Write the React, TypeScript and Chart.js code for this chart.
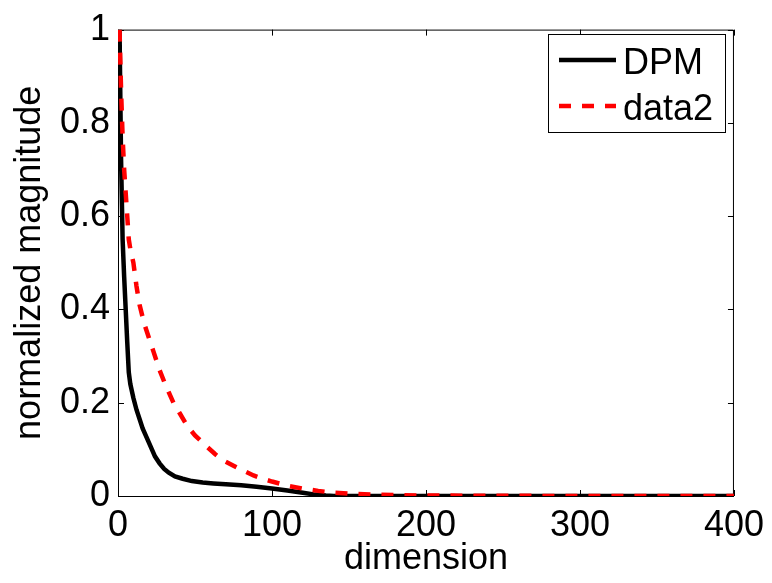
import React, { useEffect, useRef } from "react";
import Chart from "chart.js/auto";

const dpmDims = [1, 2, 3, 4, 5, 6, 7, 8, 10, 12, 14, 16, 18, 20, 22, 24, 27, 30, 33, 37, 42, 48, 55, 62, 70, 80, 90, 100, 110, 120, 128, 135, 140, 200, 300, 400];
const dpmVals = [1.0, 0.72, 0.55, 0.47, 0.4, 0.33, 0.265, 0.24, 0.21, 0.185, 0.165, 0.145, 0.13, 0.115, 0.1, 0.085, 0.07, 0.058, 0.05, 0.042, 0.037, 0.032, 0.029, 0.027, 0.025, 0.023, 0.02, 0.016, 0.012, 0.007, 0.003, 0.001, 0, 0, 0, 0];

const data2Dims = [1, 2, 3, 4, 5, 6, 7, 8, 10, 12, 14, 17, 20, 23, 27, 30, 33, 36, 40, 45, 50, 57, 63, 68, 75, 81, 88, 94, 100, 110, 120, 130, 140, 150, 165, 180, 200, 300, 400];
const data2Vals = [1.0, 0.87, 0.77, 0.7, 0.65, 0.6, 0.55, 0.53, 0.5, 0.45, 0.41, 0.37, 0.34, 0.31, 0.27, 0.245, 0.222, 0.2, 0.178, 0.15, 0.13, 0.108, 0.09, 0.077, 0.065, 0.055, 0.044, 0.037, 0.031, 0.022, 0.016, 0.011, 0.007, 0.005, 0.003, 0.002, 0.001, 0, 0];

const seriesLabels = ["DPM", "data2"];
const xTicks = [0, 100, 200, 300, 400];
const yTicks = [0, 0.2, 0.4, 0.6, 0.8, 1];
const yTickLabels = ["0", "0.2", "0.4", "0.6", "0.8", "1"];

const FONT = "'Liberation Sans', Arial, Helvetica, sans-serif";

const boxPlugin = {
  id: "matlabBox",
  beforeDatasetsDraw(chart: any) {
    const { ctx, chartArea } = chart;
    const { left, right, top, bottom } = chartArea;
    const xs = chart.scales.x;
    const ys = chart.scales.y;
    const tl = 6;
    ctx.save();
    ctx.strokeStyle = "#000";
    ctx.lineWidth = 1;
    ctx.beginPath();
    ctx.rect(left + 0.5, top + 0.5, right - left - 1, bottom - top);
    for (const v of xTicks) {
      const px = Math.round(xs.getPixelForValue(v)) + 0.5;
      ctx.moveTo(px, bottom);
      ctx.lineTo(px, bottom - tl);
      ctx.moveTo(px, top);
      ctx.lineTo(px, top + tl);
    }
    for (const v of yTicks) {
      const py = Math.round(ys.getPixelForValue(v)) + 0.5;
      ctx.moveTo(left, py);
      ctx.lineTo(left + tl, py);
      ctx.moveTo(right, py);
      ctx.lineTo(right - tl, py);
    }
    ctx.stroke();
    ctx.restore();
  },
  afterDatasetsDraw(chart: any) {
    const { ctx } = chart;
    ctx.save();
    const bx = 548.5, by = 34.5, bw = 177, bh = 98;
    ctx.fillStyle = "#fff";
    ctx.fillRect(bx, by, bw, bh);
    ctx.strokeStyle = "#000";
    ctx.lineWidth = 1;
    ctx.strokeRect(bx, by, bw, bh);
    const rows = [60, 106];
    chart.data.datasets.forEach((ds: any, i: number) => {
      const y = rows[i];
      ctx.beginPath();
      ctx.strokeStyle = ds.borderColor;
      ctx.lineWidth = ds.borderWidth;
      ctx.setLineDash(ds.borderDash || []);
      ctx.moveTo(559, y);
      ctx.lineTo(616, y);
      ctx.stroke();
      ctx.setLineDash([]);
      ctx.fillStyle = "#000";
      ctx.font = `36px ${FONT}`;
      ctx.textBaseline = "alphabetic";
      ctx.textAlign = "left";
      ctx.fillText(ds.label, 623, y + 14);
    });
    ctx.restore();
  },
};

export default function App() {
  const ref = useRef<HTMLCanvasElement | null>(null);
  useEffect(() => {
    document.body.style.margin = "0";
    if (!ref.current) return;
    const chart = new Chart(ref.current, {
      type: "line",
      data: {
        datasets: [
          {
            label: seriesLabels[0],
            data: dpmDims.map((d, i) => ({ x: d, y: dpmVals[i] })),
            borderColor: "#000000",
            borderWidth: 4.5,
            pointRadius: 0,
            fill: false,
            tension: 0,
            order: 1,
          },
          {
            label: seriesLabels[1],
            data: data2Dims.map((d, i) => ({ x: d, y: data2Vals[i] })),
            borderColor: "#ff0000",
            borderWidth: 4.5,
            borderDash: [12, 11],
            borderCapStyle: "butt",
            pointRadius: 0,
            fill: false,
            tension: 0,
            order: 0,
          },
        ],
      },
      options: {
        responsive: false,
        animation: false,
        layout: { padding: { left: 0, top: 24, right: 36, bottom: 0 } },
        plugins: {
          legend: { display: false },
          tooltip: { enabled: false },
        },
        scales: {
          x: {
            type: "linear",
            min: 0,
            max: 400,
            afterBuildTicks: (s: any) => {
              s.ticks = xTicks.map((v) => ({ value: v }));
            },
            afterFit: (s: any) => {
              s.height = 87;
            },
            grid: { display: false, drawTicks: false },
            border: { display: false },
            ticks: {
              color: "#000",
              padding: 8,
              maxRotation: 0,
              autoSkip: false,
              font: { family: FONT, size: 36 },
            },
            title: {
              display: true,
              text: "dimension",
              color: "#000",
              font: { family: FONT, size: 36, lineHeight: 1.2 },
              padding: { top: 0, bottom: 2 },
            },
          },
          y: {
            type: "linear",
            min: 0,
            max: 1,
            afterBuildTicks: (s: any) => {
              s.ticks = yTicks.map((v) => ({ value: v }));
            },
            afterFit: (s: any) => {
              s.width = 118;
            },
            grid: { display: false, drawTicks: false },
            border: { display: false },
            ticks: {
              color: "#000",
              padding: 8,
              autoSkip: false,
              font: { family: FONT, size: 36 },
              callback: (v: any) => {
                const i = yTicks.findIndex((t) => Math.abs(t - Number(v)) < 1e-9);
                return i >= 0 ? yTickLabels[i] : "";
              },
            },
            title: {
              display: true,
              text: "normalized magnitude",
              color: "#000",
              font: { family: FONT, size: 36, lineHeight: 1.2 },
              padding: { top: 8, bottom: 0 },
            },
          },
        },
      },
      plugins: [boxPlugin],
    } as any);
    return () => chart.destroy();
  }, []);
  return (
    <div style={{ position: "absolute", left: 0, top: 0, width: 772, height: 583, background: "#fff" }}>
      <canvas ref={ref} width={772} height={583} style={{ width: 772, height: 583 }} />
    </div>
  );
}
